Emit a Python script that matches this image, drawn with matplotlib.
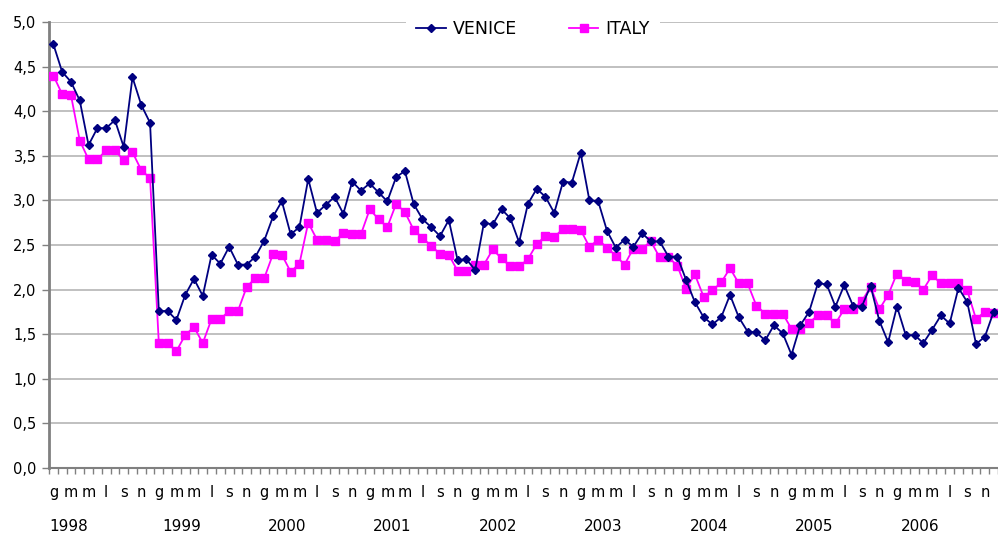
import matplotlib
matplotlib.use("Agg")
import matplotlib.pyplot as plt
import numpy as np

years = ["1998", "1999", "2000", "2001", "2002", "2003", "2004", "2005", "2006"]
month_letters = ["g", "f", "m", "a", "m", "g", "l", "a", "s", "o", "n", "d"]

venice = [
    4.75, 4.44, 4.33, 4.12, 3.62, 3.81, 3.81, 3.90, 3.60, 4.38, 4.07, 3.87,
    1.76, 1.76, 1.66, 1.94, 2.12, 1.93, 2.39, 2.29, 2.48, 2.28, 2.28, 2.37,
    2.55, 2.82, 2.99, 2.62, 2.70, 3.24, 2.86, 2.95, 3.04, 2.85, 3.21, 3.11,
    3.19, 3.09, 2.99, 3.26, 3.33, 2.96, 2.79, 2.70, 2.60, 2.78, 2.33, 2.34,
    2.22, 2.75, 2.73, 2.90, 2.80, 2.53, 2.96, 3.13, 3.04, 2.86, 3.21, 3.20,
    3.53, 3.00, 2.99, 2.66, 2.47, 2.56, 2.48, 2.63, 2.54, 2.54, 2.37, 2.37,
    2.11, 1.86, 1.69, 1.61, 1.69, 1.94, 1.69, 1.53, 1.52, 1.43, 1.60, 1.51,
    1.27, 1.60, 1.75, 2.07, 2.06, 1.81, 2.05, 1.82, 1.81, 2.04, 1.65, 1.41,
    1.81, 1.49, 1.49, 1.40, 1.55, 1.71, 1.62, 2.02, 1.86, 1.39, 1.47, 1.75,
]
italy = [
    4.40, 4.19, 4.18, 3.67, 3.46, 3.46, 3.56, 3.56, 3.45, 3.54, 3.34, 3.25,
    1.40, 1.40, 1.31, 1.49, 1.58, 1.40, 1.67, 1.67, 1.76, 1.76, 2.03, 2.13,
    2.13, 2.40, 2.39, 2.20, 2.29, 2.75, 2.56, 2.56, 2.55, 2.63, 2.62, 2.62,
    2.90, 2.79, 2.70, 2.96, 2.87, 2.67, 2.58, 2.49, 2.40, 2.39, 2.21, 2.21,
    2.28, 2.28, 2.45, 2.35, 2.26, 2.26, 2.34, 2.51, 2.60, 2.59, 2.68, 2.68,
    2.67, 2.48, 2.56, 2.47, 2.38, 2.28, 2.46, 2.46, 2.54, 2.36, 2.36, 2.27,
    2.01, 2.17, 1.92, 1.99, 2.08, 2.24, 2.07, 2.07, 1.82, 1.73, 1.73, 1.73,
    1.56, 1.56, 1.63, 1.71, 1.71, 1.62, 1.78, 1.78, 1.87, 2.03, 1.78, 1.94,
    2.18, 2.10, 2.09, 2.00, 2.16, 2.07, 2.07, 2.07, 1.99, 1.67, 1.75, 1.74,
]

W, H = 998, 536
fig = plt.figure(figsize=(W / 100, H / 100), dpi=100)
ax = fig.add_axes([49 / W, 1 - 468 / H, 1 - 49 / W, (468 - 22) / H])

x = np.arange(len(venice))
ax.plot(x, venice, color="#000080", lw=1.3, marker="D", ms=4.0,
        mfc="#000080", mec="#000080", label="VENICE", zorder=4, clip_on=True)
ax.plot(x, italy, color="#FF00FF", lw=1.3, marker="s", ms=5.2,
        mfc="#FF00FF", mec="#FF00FF", label="ITALY", zorder=3, clip_on=True)

ax.set_ylim(0, 5.0)
ax.set_xlim(-0.5, 106.5)
yt = np.arange(0, 5.01, 0.5)
ax.set_yticks(yt)
ax.set_yticklabels([f"{v:.1f}".replace(".", ",") for v in yt], fontsize=10.5)
ax.yaxis.grid(True, color="#C0C0C0", lw=1.4)
ax.set_axisbelow(True)
ax.tick_params(axis="y", length=5, width=1, color="#808080", pad=4)

# month ticks between categories, labels every other month
ax.set_xticks(np.arange(-0.5, len(venice), 1.0), minor=True)
ax.set_xticks([])
ax.tick_params(axis="x", which="minor", length=4, width=1, color="#808080")
for i in range(0, len(venice), 2):
    if i <= 106.5:
        ax.text(i, -0.27, month_letters[i % 12], ha="center", va="center",
                fontsize=10.5, clip_on=False)
for k, yr in enumerate(years):
    xi = k * 12 + 2.6
    if k == 0:
        ax.text(-0.5, -0.66, yr, ha="left", va="center", fontsize=11, clip_on=False)
    else:
        ax.text(xi, -0.66, yr, ha="center", va="center", fontsize=11, clip_on=False)

for s in ["top", "right"]:
    ax.spines[s].set_visible(False)
ax.spines["left"].set_color("#808080")
ax.spines["left"].set_linewidth(2)
ax.spines["bottom"].set_color("#808080")
ax.spines["bottom"].set_linewidth(1.5)

leg = ax.legend(loc="center", bbox_to_anchor=(0.51, 0.985), ncol=2, fontsize=12.5,
                frameon=True, facecolor="white", edgecolor="none", framealpha=1,
                columnspacing=3.0, handlelength=1.7, handletextpad=0.4,
                borderpad=0.6, borderaxespad=0.0, fancybox=False)
leg.set_zorder(10)

fig.savefig("out.png", dpi=100)
